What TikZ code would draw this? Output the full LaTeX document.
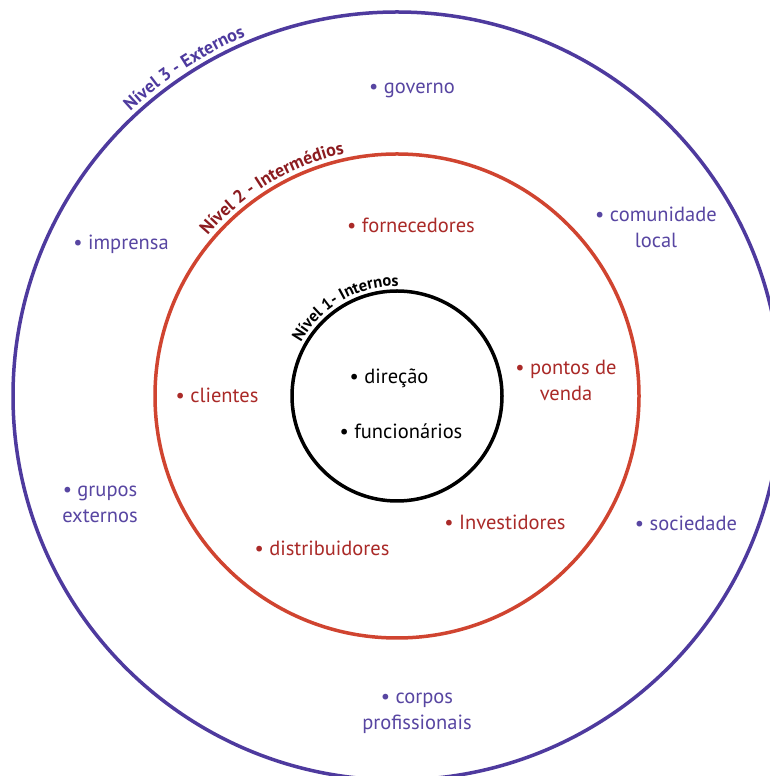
\documentclass[tikz,border=0pt]{standalone}
\usepackage{fontspec}
\setmainfont{PT Sans}
\usetikzlibrary{decorations.text,calc}
\definecolor{cpurple}{RGB}{78,58,158}
\definecolor{ctextp}{RGB}{88,70,162}
\definecolor{cred}{RGB}{208,68,48}
\definecolor{ctextr}{RGB}{170,42,40}
\definecolor{clabr}{RGB}{140,28,32}
\tikzset{
  ring/.style={line width=3.5pt},
  item/.style={font=\fontsize{20.5}{26}\selectfont, align=center, inner sep=0pt},
  purpleitem/.style={item, text=ctextp},
  reditem/.style={item, text=ctextr},
  blackitem/.style={item, text=black},
}
\begin{document}
\begin{tikzpicture}[x=1pt,y=1pt]
\useasboundingbox (0,0) rectangle (770,776);
\fill[white] (0,0) rectangle (770,776);
\coordinate (c) at (397,380);
\draw[ring, cpurple] (c) circle[radius=384];
\draw[ring, cred] (c) circle[radius=242];
\draw[ring, black] (c) circle[radius=105];

% curved labels
\path[decorate, decoration={text along path, text align=center,
  text={|\fontsize{18}{18}\selectfont\bfseries\color{cpurple}|Nível 3 - Externos}}]
  ($(c)+(160:390)$) arc[start angle=160, end angle=86, radius=390];
\path[decorate, decoration={text along path, text align=center,
  text={|\fontsize{18}{18}\selectfont\bfseries\color{clabr}|Nível 2 - Intermédios}}]
  ($(c)+(165:248)$) arc[start angle=165, end angle=77, radius=248];
\path[decorate, decoration={text along path, text align=center,
  text={|\fontsize{16.5}{16.5}\selectfont\bfseries\color{black}|Nível 1- Internos}}]
  ($(c)+(185:110)$) arc[start angle=185, end angle=55, radius=110];

% outer items
\node[purpleitem] (governo) at (412,686) {• governo};
\node[purpleitem] (comunidade) at (656,549) {• comunidade\\local};
\node[purpleitem] (imprensa) at (121,532) {• imprensa};
\node[purpleitem] (grupos) at (100,272) {• grupos\\externos};
\node[purpleitem] (sociedade) at (686,253) {• sociedade};
\node[purpleitem] (corpos) at (417,63) {• corpos\\profissionais};

% middle items
\node[reditem] (fornecedores) at (411,551) {• fornecedores};
\node[reditem] (clientes) at (217,381) {• clientes};
\node[reditem] (pontos) at (566,396) {• pontos de\\venda};
\node[reditem] (investidores) at (505,254) {• Investidores};
\node[reditem] (distribuidores) at (322,228) {• distribuidores};

% inner items
\node[blackitem] (direcao) at (389,398) {• direção};
\node[blackitem] (funcionarios) at (401,345) {• funcionários};
\end{tikzpicture}
\end{document}
